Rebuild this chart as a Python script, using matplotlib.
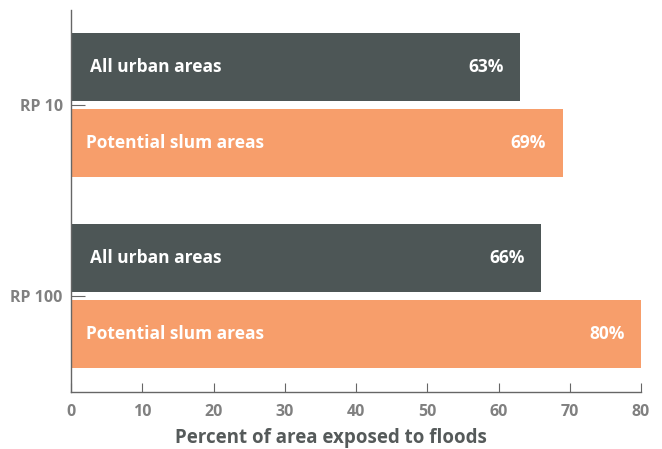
import matplotlib.pyplot as plt
import numpy as np

plt.rcParams['font.family'] = ['Open Sans', 'DejaVu Sans']

# Data
periods = ["RP 10", "RP 100"]
series_names = ["All urban areas", "Potential slum areas"]
urban = [63, 66]
slum = [69, 80]
colors = ["#4d5656", "#f79e6b"]

fig = plt.figure(figsize=(6.62, 4.49), dpi=100)
ax = fig.add_axes([71 / 662, 1 - 392 / 449, 570 / 662, 382 / 449])

y = np.arange(len(periods))
h = 0.356
off = 0.199

for vals, name, c, dy, x0 in [(urban, series_names[0], colors[0], -off, 2.6),
                              (slum, series_names[1], colors[1], off, 2.1)]:
    ax.barh(y + dy, vals, height=h, color=c)
    for yi, v in zip(y, vals):
        ax.text(x0, yi + dy, name, color="white", fontweight="bold",
                fontsize=12.5, va="center", ha="left")
        ax.text(v - 2.3, yi + dy, f"{v}%", color="white", fontweight="bold",
                fontsize=12.5, va="center", ha="right")

ax.set_xlim(0, 80)
ax.set_ylim(1.503, -0.497)
ax.set_xticks(range(0, 81, 10))
ax.set_yticks(y)
ax.set_yticklabels(periods)

for s in ["top", "right"]:
    ax.spines[s].set_visible(False)
for s in ["left", "bottom"]:
    ax.spines[s].set_color("#666666")
    ax.spines[s].set_linewidth(1)

ax.tick_params(axis="x", direction="in", length=6.5, color="#666666",
               labelcolor="#808080", labelsize=11.5, pad=9)
ax.tick_params(axis="y", direction="in", length=10, color="#666666",
               labelcolor="#808080", labelsize=11.5, pad=6)
for lbl in ax.get_xticklabels() + ax.get_yticklabels():
    lbl.set_fontweight("bold")

fig.text(0.5, 1 - 438 / 449, "Percent of area exposed to floods", fontsize=13.5,
         fontweight="bold", color="#555a5a", ha="center", va="center")

fig.savefig("out.png", dpi=100)
